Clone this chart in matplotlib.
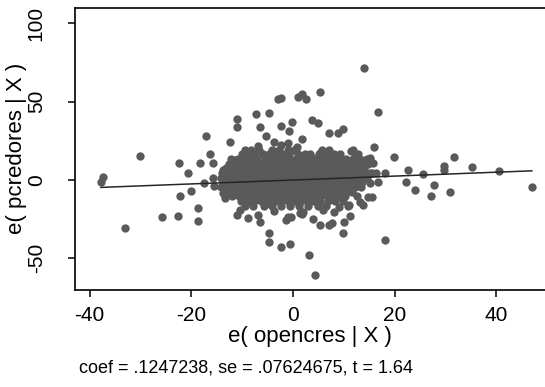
import numpy as np
import matplotlib.pyplot as plt

plt.rcParams['font.family'] = ['Liberation Sans', 'DejaVu Sans']
plt.rcParams['axes.unicode_minus'] = False

# scattered points outside the dense middle, e( opencres | X ) / e( pcredores | X )
out_x = [-37.3, -37.8, -33.1, -30.1, -25.7, -22.7, -22.5, -22.2, -20.7, -20.0,
         -18.3, -18.6, -18.6, -17.6, -17.2, -16.3, -15.8, -15.8, -15.5, -13.4,
         -13.8, -13.7, -13.0, -12.7, -11.4, -12.4, -11.1, -11.1, -11.5, -9.8,
         -8.8, -7.3, -6.5, -4.8, -5.3, -6.9, -2.9, -2.4, 0.9, 1.8,
         2.5, -2.4, -0.1, -0.7, -3.8, -2.4, -0.9, 1.7, 0.7, 3.8,
         4.9, 13.9, 16.8, 5.4, 7.1, 8.9, 9.9, 11.5, 12.4, 16.0,
         15.1, 15.8, 19.9, 31.7, 29.7, 29.7, 35.3, 40.5, 22.7, 25.6,
         18.1, 15.1, 5.6, 7.9, 3.5, 9.6, 13.5, 14.6, 6.6, 47.0,
         30.9, 27.1, 27.7, 24.0, 22.3, 18.2, 3.1, 4.4, -0.5, 9.9,
         10.0, 11.3, 8.1, 9.0, 10.9, 7.1, 5.4, 7.6, 4.0, 6.0,
         1.7, -0.3, 7.8, 13.8, 13.2, 14.8, 15.5, 12.2, 15.1, 15.5,
         -11.1, -10.4, -8.9, -6.5, -6.9, -4.7, -4.7, -2.4, -3.7, -1.4,
         -0.9, 1.4, 2.0, -8.4, -5.2, 5.3, 6.9, 11.8, 13.5, 11.1]
out_y = [1.7, -1.1, -30.7, 15.5, -23.6, -23.0, 11.0, -10.0, 4.5, -7.0,
         10.6, -18.1, -26.0, -2.1, 28.3, 16.8, 10.6, 1.5, -3.8, -11.7,
         -8.5, 6.4, 3.2, 6.4, 8.5, 24.3, 39.0, 33.6, 12.8, 13.4,
         18.1, 42.0, 34.0, 43.0, 28.3, 21.7, 51.7, 52.6, 53.2, 54.7,
         51.7, 34.7, 36.8, 31.3, 24.0, 22.6, 23.8, 26.0, 21.3, 38.6,
         36.2, 71.3, 43.2, 56.0, 29.8, 29.8, 32.6, 18.5, 16.0, 20.9,
         13.9, 11.0, 14.5, 14.5, 8.9, 6.4, 8.5, 5.9, 6.4, 3.8,
         4.3, 4.3, 16.6, 14.9, 14.5, 12.1, 11.7, 13.2, 4.7, -4.3,
         -7.7, -10.0, -3.4, -6.4, -1.3, -38.5, -48.0, -60.7, -40.6, -33.7,
         -27.0, -23.0, -20.6, -17.0, -16.4, -28.9, -28.5, -27.5, -24.7, -19.2,
         -21.9, -23.4, -10.8, -16.0, -13.8, -10.6, -11.0, -4.3, -2.1, 4.3,
         -22.3, -19.2, -24.5, -26.6, -22.3, -33.7, -39.4, -43.0, -19.6, -25.5,
         -23.4, -21.3, -20.2, -13.8, -14.9, 17.0, 14.9, 19.2, 12.8, -16.0]

# dense middle, read row by row
row_y = [19.0, 16.5, 13.5, 10.5, 7.5, 4.5, 1.5, -1.5, -4.5, -7.5, -10.5, -13.5, -16.5]
row_x = [
    [-9.5, -8.2, -6.6, -4.1, -2.8, -1.0, 0.3, 5.8, 7.0],
    [-10.0, -8.7, -7.5, -5.9, -4.8, -3.4, -2.1, -0.8, 0.9, 2.4, 3.3, 5.2, 6.4, 8.1, 9.3, 12.7],
    [-12.1, -10.8, -9.3, -8.1, -7.0, -5.6, -4.5, -3.1, -1.9, -0.5, 0.6, 1.8, 3.0, 4.1,
     5.3, 6.6, 7.7, 9.0, 10.4, 11.9, 13.0],
    [-12.6, -11.4, -10.2, -8.8, -7.7, -6.4, -5.1, -4.0, -2.7, -1.5, -0.2, 1.0, 2.3, 3.5,
     4.6, 5.9, 7.1, 8.2, 9.7, 11.0, 12.3, 14.8],
    [-13.2, -11.9, -10.6, -9.4, -8.3, -7.0, -5.8, -4.6, -3.3, -2.1, -0.9, 0.4, 1.6, 2.8,
     4.0, 5.2, 6.4, 7.6, 8.9, 10.1, 11.4, 12.8, 14.0],
    [-14.0, -12.2, -11.0, -9.9, -8.6, -7.4, -6.1, -4.9, -3.7, -2.5, -1.2, 0.0, 1.2, 2.5,
     3.7, 4.9, 6.1, 7.3, 8.6, 9.8, 11.0, 12.5, 13.7, 16.4],
    [-14.1, -12.9, -11.7, -10.4, -9.2, -8.0, -6.8, -5.5, -4.3, -3.0, -1.8, -0.6, 0.7, 1.9,
     3.1, 4.4, 5.6, 6.8, 8.0, 9.3, 10.6, 11.9, 13.1, 14.5],
    [-13.7, -12.4, -11.2, -10.0, -8.8, -7.5, -6.3, -5.1, -3.8, -2.6, -1.4, -0.1, 1.1, 2.4,
     3.6, 4.8, 6.0, 7.3, 8.5, 9.7, 11.0, 12.3, 13.6, 16.8],
    [-14.2, -12.8, -11.6, -10.3, -9.1, -7.9, -6.7, -5.4, -4.2, -3.0, -1.7, -0.5, 0.8, 2.0,
     3.2, 4.4, 5.7, 6.9, 8.1, 9.4, 10.6, 11.8, 13.3],
    [-13.0, -11.8, -10.5, -9.3, -8.0, -6.8, -5.6, -4.4, -3.1, -1.9, -0.7, 0.6, 1.8, 3.0,
     4.3, 5.5, 6.7, 7.9, 9.1, 10.4, 11.7],
    [-12.0, -10.7, -9.5, -8.2, -7.0, -5.8, -4.5, -3.3, -2.1, -0.8, 0.4, 1.6, 2.9, 4.1,
     5.3, 6.6, 7.8, 9.0, 10.3, 12.6],
    [-10.2, -8.9, -7.7, -6.2, -4.9, -3.6, -2.3, -1.0, 0.3, 1.5, 2.8, 4.0, 5.4, 6.8, 8.3, 9.8],
    [-9.4, -7.8, -5.7, -4.1, -2.4, -0.6, 1.2, 3.0, 4.9, 6.5],
]

coef = 0.1247238
note = "coef = .1247238, se = .07624675, t = 1.64"

xs = list(out_x)
ys = list(out_y)
for yv, row in zip(row_y, row_x):
    xs += row
    ys += [yv] * len(row)
xs = np.array(xs)
ys = np.array(ys)

fig = plt.figure(figsize=(5.45, 3.87), dpi=100)
ax = fig.add_axes([0.1376, 0.2519, 0.8624, 0.7274])

ax.scatter(xs, ys, s=36, color='#5a5a5a', linewidths=0, zorder=2)
lx = np.array([xs.min(), xs.max()])
ax.plot(lx, coef * lx, color='#262626', lw=1.1, zorder=3)

ax.set_xlim(-42.9, 49.6)
ax.set_ylim(-69.9, 109.8)
ax.set_xticks([-40, -20, 0, 20, 40])
ax.set_yticks([-50, 0, 50, 100])
ax.tick_params(axis='both', direction='out', length=5, width=1.1, labelsize=15)
ax.tick_params(axis='x', pad=7)
ax.tick_params(axis='y', pad=16)
for lab in ax.get_yticklabels():
    lab.set_rotation(90)
    lab.set_va('center')
ax.spines['right'].set_visible(False)
for sp in ['left', 'bottom', 'top']:
    ax.spines[sp].set_linewidth(1.2)

ax.set_xlabel("e( opencres | X )", fontsize=16)
ax.set_ylabel("e( pcredores | X )", fontsize=16)
ax.xaxis.set_label_coords(0.5, -0.166)
ax.yaxis.set_label_coords(-0.1255, 0.5)
ax.xaxis.label.set_va('center')
ax.yaxis.label.set_va('center')
fig.text(79 / 545, 1 - 368 / 387, note, fontsize=13, va='center', ha='left')

fig.savefig('out.png', dpi=100)
